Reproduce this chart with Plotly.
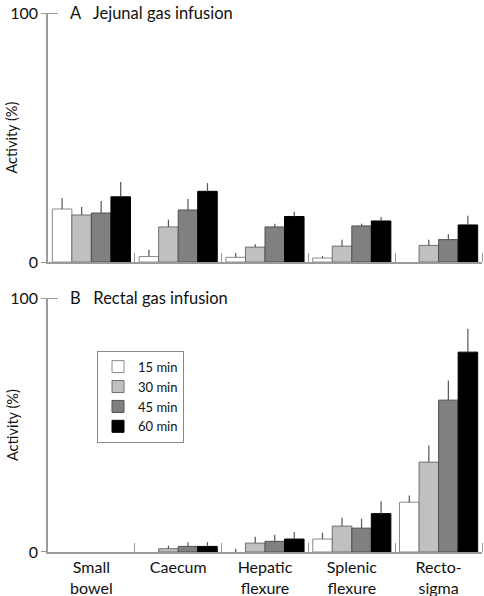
import plotly.graph_objects as go

categories = ["Small<br>bowel", "Caecum", "Hepatic<br>flexure", "Splenic<br>flexure", "Recto-<br>sigma"]
series_names = ["15 min", "30 min", "45 min", "60 min"]

# Panel A: jejunal gas infusion (mean, SE)
jej_15 = [21.3, 2.2, 1.9, 1.6, 0.0]
jej_15_err = [4.4, 2.7, 1.7, 0.8, 0.0]
jej_30 = [18.9, 14.1, 6.0, 6.4, 6.7]
jej_30_err = [3.2, 2.9, 1.2, 2.6, 2.3]
jej_45 = [19.7, 20.9, 14.1, 14.5, 9.0]
jej_45_err = [4.8, 4.4, 1.3, 0.9, 2.2]
jej_60 = [26.2, 28.4, 18.3, 16.5, 14.9]
jej_60_err = [5.9, 3.3, 1.9, 1.6, 3.7]

# Panel B: rectal gas infusion (mean, SE)
rec_15 = [0.0, 0.0, 0.0, 5.1, 19.6]
rec_15_err = [0.0, 0.0, 1.3, 2.5, 2.6]
rec_30 = [0.0, 1.3, 3.5, 10.2, 35.4]
rec_30_err = [0.0, 1.2, 2.5, 3.3, 6.5]
rec_45 = [0.0, 2.2, 4.2, 9.4, 59.8]
rec_45_err = [0.0, 1.6, 2.6, 3.7, 7.7]
rec_60 = [0.0, 2.2, 5.1, 15.1, 78.7]
rec_60_err = [0.0, 1.7, 2.8, 4.9, 9.2]

fills = ["#ffffff", "#c0c0c0", "#808080", "#000000"]
outlines = ["#8a8a8a", "#707070", "#505050", "#000000"]
FONT = "Lato"
AX = "#9a9a9a"
TXT = "#111111"

xpos = list(range(len(categories)))
top = [(jej_15, jej_15_err), (jej_30, jej_30_err), (jej_45, jej_45_err), (jej_60, jej_60_err)]
bot = [(rec_15, rec_15_err), (rec_30, rec_30_err), (rec_45, rec_45_err), (rec_60, rec_60_err)]


def bar(vals, errs, i, xa, ya, legend):
    return go.Bar(
        x=xpos, y=vals, name=series_names[i], showlegend=legend,
        marker=dict(color=fills[i],
                    line=dict(color=outlines[i], width=[0 if v == 0 else 1 for v in vals])),
        error_y=dict(type="data", symmetric=False, array=errs, arrayminus=[0] * len(errs),
                     color="#555555", thickness=1.2, width=0),
        xaxis=xa, yaxis=ya, offsetgroup=str(i))


fig = go.Figure()
for i, (vals, errs) in enumerate(top):
    fig.add_trace(bar(vals, errs, i, "x", "y", True))
for i, (vals, errs) in enumerate(bot):
    fig.add_trace(bar(vals, errs, i, "x2", "y2", False))

bounds = [i + 0.5 for i in xpos]
xcommon = dict(range=[-0.5, len(categories) - 0.5], showline=True, linecolor=AX, linewidth=1.5,
               showgrid=False, zeroline=False, ticks="", tickvals=xpos, automargin=False,
               minor=dict(tickvals=bounds, ticks="inside", ticklen=9, tickcolor=AX, tickwidth=1.2))
ycommon = dict(range=[0, 100], tickvals=[0, 100], showline=True, linecolor=AX, linewidth=1.5,
               showgrid=False, zeroline=False, ticks="outside", ticklen=5, tickcolor=AX, tickwidth=1.2,
               minor=dict(tickvals=[100], ticks="inside", ticklen=10, tickcolor=AX, tickwidth=1.2),
               tickfont=dict(size=16, color=TXT), automargin=False)

W, H = 484, 596
L, R, T, B = 48, 2, 13, 43.5
pw = W - L - R
ph = H - T - B
top_dom = [(H - B - 262.3) / ph, 1.0]
bot_dom = [0.0, (H - B - 298.3) / ph]

fig.update_layout(
    width=W, height=H,
    margin=dict(l=L, r=R, t=T, b=B),
    plot_bgcolor="white", paper_bgcolor="white",
    font=dict(family=FONT, color=TXT),
    barmode="group", bargap=0.1, bargroupgap=0,
    xaxis=dict(xcommon, anchor="y", showticklabels=False),
    yaxis=dict(ycommon, domain=top_dom, anchor="x"),
    xaxis2=dict(xcommon, anchor="y2", showticklabels=True, ticktext=categories,
                tickfont=dict(size=16, color=TXT)),
    yaxis2=dict(ycommon, domain=bot_dom, anchor="x2"),
    legend=dict(x=(97 - L) / pw, y=(H - B - 351) / ph, xanchor="left", yanchor="top",
                bordercolor="#888", borderwidth=1, bgcolor="white",
                font=dict(size=13, color=TXT), tracegroupgap=0, itemwidth=30),
    annotations=[
        dict(text="A   Jejunal gas infusion", xref="paper", yref="paper", x=20 / pw, y=top_dom[1],
             xanchor="left", yanchor="middle", showarrow=False, font=dict(size=16.5)),
        dict(text="B   Rectal gas infusion", xref="paper", yref="paper", x=20 / pw, y=bot_dom[1],
             xanchor="left", yanchor="middle", showarrow=False, font=dict(size=16.5)),
        dict(text="Activity (%)", xref="paper", yref="paper", x=-36 / pw, y=sum(top_dom) / 2,
             xanchor="center", yanchor="middle", textangle=-90, showarrow=False,
             font=dict(size=14.5)),
        dict(text="Activity (%)", xref="paper", yref="paper", x=-36 / pw, y=sum(bot_dom) / 2,
             xanchor="center", yanchor="middle", textangle=-90, showarrow=False,
             font=dict(size=14.5)),
    ],
)

fig.write_html("out.html", post_script="document.body.style.margin='0';",
               config={"displayModeBar": False})
